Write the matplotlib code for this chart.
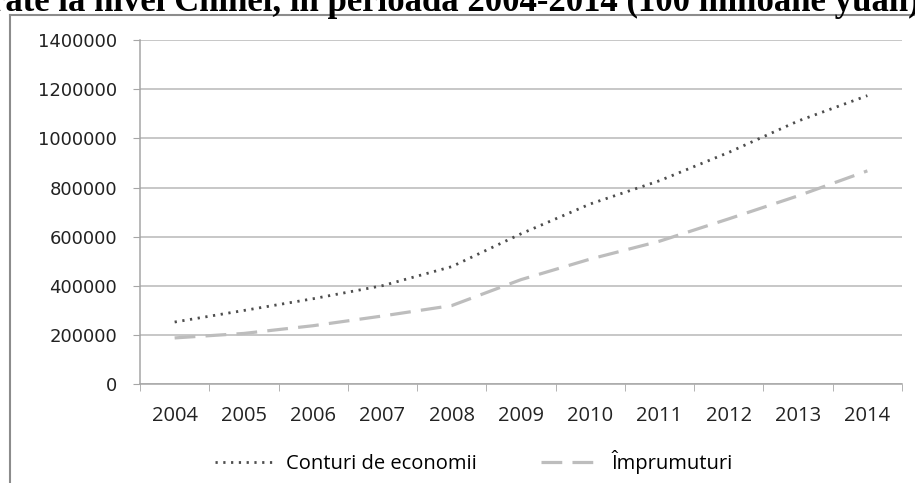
import matplotlib.pyplot as plt
from matplotlib.lines import Line2D

# depozite si imprumuturi, 100 milioane yuan
years = ["2004", "2005", "2006", "2007", "2008", "2009",
         "2010", "2011", "2012", "2013", "2014"]
conturi = [253188, 300209, 348016, 401051, 478444, 612006,
           733382, 827914, 943102, 1070588, 1173735]
imprumuturi = [188566, 206839, 238280, 277747, 320049, 425597,
               509226, 581893, 672875, 766327, 867868]
y_ticks = [0, 200000, 400000, 600000, 800000, 1000000, 1200000, 1400000]

W, H = 915, 483
fig = plt.figure(figsize=(W / 100, H / 100), dpi=100)

# chart frame (partly outside the picture)
fig.add_artist(Line2D([10 / W, 10 / W], [0, 1 - 15 / H], color="#8c8c8c", lw=1.5))
fig.add_artist(Line2D([10 / W, 1], [1 - 15 / H, 1 - 15 / H], color="#8c8c8c", lw=1.5))

# cut-off title from the page above
fig.text(-120 / W, 1 - 11 / H,
         "înregistrate la nivel Chinei, în perioada 2004-2014 (100 milioane yuan)",
         family="Liberation Serif", weight="bold", fontsize=25,
         ha="left", va="baseline")

ax = fig.add_axes([140 / W, 1 - 384.3 / H, (902 - 140) / W, (384.3 - 40) / H])
x = list(range(len(years)))

ax.plot(x, conturi, color="#4d4d4d", lw=2.0, linestyle=(0, (0.8, 2.0)),
        label="Conturi de economii")
ax.plot(x, imprumuturi, color="#bdbdbd", lw=2.3, linestyle=(0, (6.5, 3.2)),
        label="Împrumuturi")

ax.set_xlim(-0.5, len(years) - 0.5)
ax.set_ylim(0, 1400000)
ax.set_yticks(y_ticks)
ax.set_yticklabels([str(v) for v in y_ticks], family="DejaVu Sans", fontsize=13,
                   color="#222222")
ax.set_xticks(x)
ax.set_xticklabels(years, family="Open Sans", fontsize=14.5, color="#222222")
ax.set_xticks([i - 0.5 for i in range(len(years) + 1)], minor=True)

ax.tick_params(axis="x", which="major", length=0, pad=15.5)
ax.tick_params(axis="x", which="minor", length=5, color="#a6a6a6", direction="out")
ax.tick_params(axis="y", length=5, color="#a6a6a6", pad=11.5)

ax.grid(axis="y", color="#b8b8b8", lw=1.1)
ax.set_axisbelow(True)
for side in ["top", "right"]:
    ax.spines[side].set_visible(False)
for side in ["left", "bottom"]:
    ax.spines[side].set_color("#a6a6a6")
    ax.spines[side].set_linewidth(1.1)

fig.legend(loc="center", bbox_to_anchor=(474 / W, 1 - 462 / H), ncol=2,
           frameon=False, prop={"family": "Open Sans", "size": 14.5},
           handlelength=2.9, handletextpad=0.6, columnspacing=3.2)

fig.savefig("out.png", dpi=100)
